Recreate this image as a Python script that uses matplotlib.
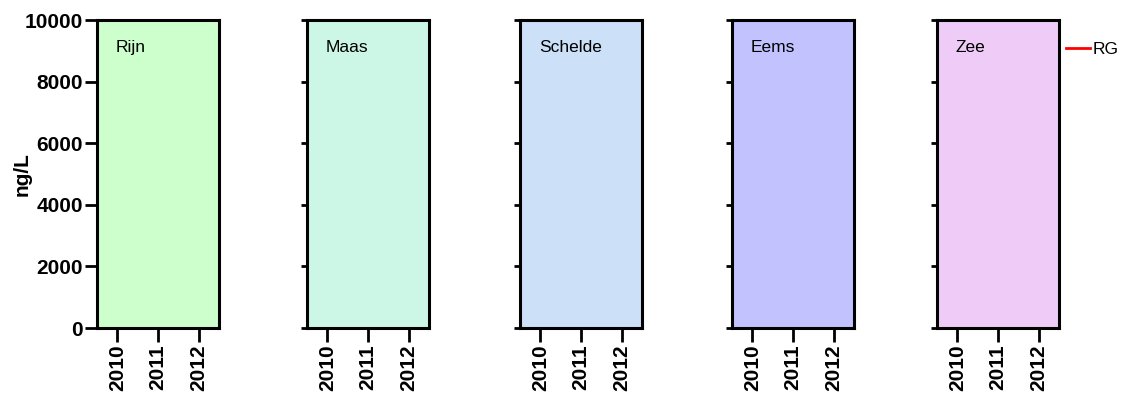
import matplotlib.pyplot as plt
from matplotlib.lines import Line2D

plt.rcParams['font.family'] = ['Liberation Sans', 'DejaVu Sans']

regions = ['Rijn', 'Maas', 'Schelde', 'Eems', 'Zee']
kleuren = ['#ccffcc', '#ccf7e6', '#cce0f7', '#c2c2ff', '#eeccf7']
jaren = [2010, 2011, 2012]
yticks = [0, 2000, 4000, 6000, 8000, 10000]
links = [97, 307, 520, 732, 937]

fig = plt.figure(figsize=(11.24, 3.94), dpi=100)
W, H = 1124, 394
breedte = 122
boven, onder = 20, 328

for i, (naam, kleur, x0) in enumerate(zip(regions, kleuren, links)):
    ax = fig.add_axes([x0 / W, 1 - onder / H, breedte / W, (onder - boven) / H])
    ax.set_facecolor(kleur)
    ax.set_xlim(2009.5, 2012.5)
    ax.set_ylim(0, 10000)
    ax.set_xticks(jaren)
    ax.set_xticklabels([str(j) for j in jaren], rotation=90, fontweight='bold', fontsize=15)
    ax.set_yticks(yticks)
    for s in ax.spines.values():
        s.set_linewidth(2.2)
    ax.tick_params(axis='x', direction='out', length=10, width=2, pad=2)
    if i == 0:
        ax.tick_params(axis='y', direction='out', length=9, width=2, pad=1)
        ax.set_yticklabels([str(v) for v in yticks], fontweight='bold', fontsize=15)
        ax.set_ylabel('ng/L', fontweight='bold', fontsize=15)
        ax.yaxis.set_label_coords(-0.535, 0.5)
    else:
        ax.tick_params(axis='y', direction='out', length=4, width=2)
        ax.set_yticklabels([])
    ax.text(0.155, 0.912, naam, transform=ax.transAxes, fontsize=12.5, va='center')

    if i == len(regions) - 1:
        rg = Line2D([], [], color='red', linewidth=2)
        ax.legend([rg], ['RG'], loc='center left', bbox_to_anchor=(1.0, 0.903),
                  frameon=False, handlelength=1.4, handletextpad=0.15, fontsize=12.5,
                  borderaxespad=0.4, borderpad=0)

fig.savefig('out.png', dpi=100)
